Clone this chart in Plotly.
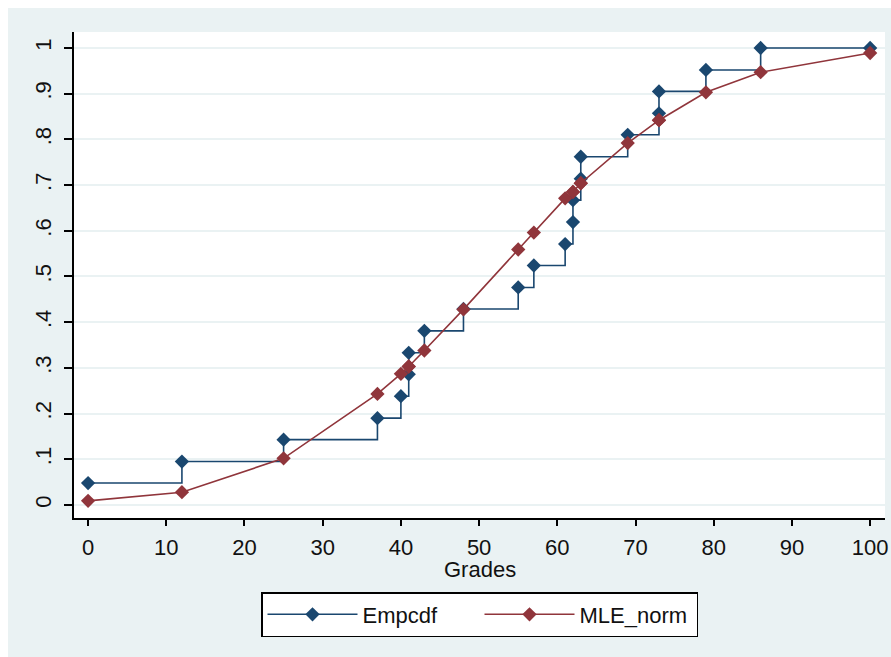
import plotly.graph_objects as go

# ---- data ----
grades = [0, 12, 25, 37, 40, 41, 41, 43, 48, 55, 57, 61, 62, 62, 63, 63, 69, 73, 73, 79, 86, 100]
empcdf = [0.048, 0.095, 0.143, 0.190, 0.238, 0.286, 0.333, 0.381, 0.429, 0.476, 0.524,
          0.571, 0.619, 0.667, 0.714, 0.762, 0.810, 0.857, 0.905, 0.952, 1.0, 1.0]
mle_norm = [0.009, 0.028, 0.102, 0.243, 0.287, 0.303, 0.303, 0.338, 0.428, 0.559, 0.596,
            0.671, 0.685, 0.685, 0.704, 0.704, 0.792, 0.842, 0.842, 0.903, 0.947, 0.989]
y_tickvals = [0, 0.1, 0.2, 0.3, 0.4, 0.5, 0.6, 0.7, 0.8, 0.9, 1.0]
y_ticktext = ["0", ".1", ".2", ".3", ".4", ".5", ".6", ".7", ".8", ".9", "1"]
x_tickvals = [0, 10, 20, 30, 40, 50, 60, 70, 80, 90, 100]

BLUE = "#1a476f"
RED = "#90353b"
BG = "#eaf2f3"
FONT = "Liberation Sans, Arial, sans-serif"

W, H = 891, 657
ML, MR, MT, MB = 74, 6, 32, 139
PW, PH = W - ML - MR, H - MT - MB
EDGE = 8  # white strip at top and left of the reference image


def px_x(p):
    return (p - ML) / PW


def px_y(p):
    return (H - MB - p) / PH


fig = go.Figure()
fig.add_trace(go.Scatter(
    x=grades, y=empcdf, name="Empcdf", mode="lines+markers",
    line=dict(color=BLUE, width=1.6, shape="hv"),
    marker=dict(symbol="diamond", size=11, color=BLUE),
))
fig.add_trace(go.Scatter(
    x=grades, y=mle_norm, name="MLE_norm", mode="lines+markers",
    line=dict(color=RED, width=1.6),
    marker=dict(symbol="diamond", size=11, color=RED),
))

fig.update_layout(
    width=W, height=H,
    margin=dict(l=ML, r=MR, t=MT, b=MB, pad=0, autoexpand=False),
    paper_bgcolor=BG, plot_bgcolor="white",
    font=dict(family=FONT, size=22, color="#111"),
    showlegend=True,
    legend=dict(
        orientation="h", x=0.5, xanchor="center", y=px_y(592), yanchor="top",
        bgcolor="white", bordercolor="black", borderwidth=1.5,
        font=dict(family=FONT, size=22, color="#111"),
        entrywidth=112, itemwidth=90,
    ),
    xaxis=dict(
        range=[-1.8, 101.9], tickvals=x_tickvals, showgrid=False, zeroline=False,
        showline=True, linecolor="black", linewidth=1.8, mirror=False,
        ticks="outside", ticklen=6, tickwidth=1.5, tickcolor="black",
        ticklabelstandoff=3, tickfont=dict(size=22), ticklabeloverflow="allow",
    ),
    yaxis=dict(
        range=[-0.0285, 1.035], tickvals=y_tickvals, ticktext=y_ticktext,
        showgrid=True, gridcolor=BG, gridwidth=1.5, zeroline=False,
        showline=True, linecolor="black", linewidth=1.8,
        ticks="outside", ticklen=8, tickwidth=1.5, tickcolor="black",
        tickangle=-90, ticklabelstandoff=4, tickfont=dict(size=22),
    ),
    annotations=[dict(
        text="Grades", xref="paper", yref="paper", x=0.5, y=px_y(569),
        xanchor="center", yanchor="middle", showarrow=False,
        font=dict(family=FONT, size=22, color="#111"),
    )],
    shapes=[
        dict(type="rect", xref="paper", yref="paper", layer="above",
             x0=px_x(0), x1=px_x(W), y0=px_y(EDGE), y1=px_y(0),
             fillcolor="white", line=dict(width=0)),
        dict(type="rect", xref="paper", yref="paper", layer="above",
             x0=px_x(0), x1=px_x(EDGE), y0=px_y(H), y1=px_y(0),
             fillcolor="white", line=dict(width=0)),
    ],
)

fig.write_html(
    "out.html",
    config={"displayModeBar": False},
    post_script="document.body.style.margin='0';"
                "document.documentElement.style.overflow='hidden';"
                "document.body.style.overflow='hidden';",
)
